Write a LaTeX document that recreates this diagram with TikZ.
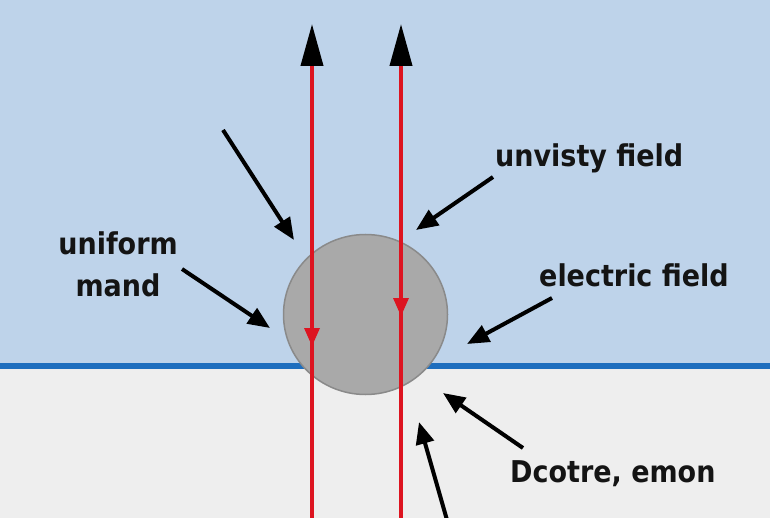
\documentclass[tikz,border=0pt]{standalone}
\usepackage{fontspec}
\setmainfont{DejaVu Sans Condensed}
\usetikzlibrary{arrows.meta}
\definecolor{skyb}{HTML}{BED3EA}
\definecolor{floorg}{HTML}{EEEEEE}
\definecolor{lineb}{HTML}{1E6EBE}
\definecolor{rayred}{HTML}{DD1420}
\definecolor{ballf}{HTML}{A9A9A9}
\definecolor{balld}{HTML}{8A8A8A}
\tikzset{
  lbl/.style={font=\bfseries\fontsize{30}{42}\selectfont, inner sep=0pt, anchor=base west, text=black!92},
  blk/.style={line width=4pt, black, -{Triangle[length=22pt,width=18pt]}},
  ray/.style={line width=4pt, rayred, -{Triangle[length=42pt,width=22pt,color=black]}},
  midtip/.style={fill=rayred}
}
\begin{document}
\begin{tikzpicture}[x=1pt,y=-1pt]
\useasboundingbox (0,0) rectangle (770,518);
% backgrounds
\fill[skyb] (0,0) rectangle (770,366);
\fill[floorg] (0,366) rectangle (770,518);
\draw[lineb, line width=6pt] (0,366) -- (770,366);
% ball
\draw[balld, fill=ballf, line width=1.5pt] (365.5,314.5) ellipse [x radius=82, y radius=80];
% rays
\coordinate (r1b) at (312,520);
\coordinate (r1t) at (312,24);
\coordinate (r2b) at (401,520);
\coordinate (r2t) at (401,24);
\draw[ray] (r1b) -- (r1t);
\draw[ray] (r2b) -- (r2t);
\fill[midtip] (304,328) -- (320,328) -- (312,346) -- cycle;
\fill[midtip] (393,298) -- (409,298) -- (401,316) -- cycle;
% labels
\node[lbl] (unv) at (495,167) {unvisty field};
\node[lbl] (ele) at (539,287) {electric field};
\node[lbl] (dco) at (510,482) {Dcotre, emon};
\node[font=\bfseries\fontsize{30}{42}\selectfont, inner sep=0pt, align=center, text=black!92, anchor=north] (uni) at (118,232) {uniform\\mand};
% arrows
\coordinate (a1s) at (223,130); \coordinate (a1t) at (294,240);
\coordinate (a2s) at (493,177); \coordinate (a2t) at (416,230);
\coordinate (a3s) at (552,298); \coordinate (a3t) at (467,344);
\coordinate (a4s) at (182,269); \coordinate (a4t) at (270,328);
\coordinate (a5s) at (523,448); \coordinate (a5t) at (443,393);
\coordinate (a6s) at (447,520); \coordinate (a6t) at (419,422);
\draw[blk] (a1s) -- (a1t);
\draw[blk] (a2s) -- (a2t);
\draw[blk] (a3s) -- (a3t);
\draw[blk] (a4s) -- (a4t);
\draw[blk] (a5s) -- (a5t);
\draw[blk] (a6s) -- (a6t);
\end{tikzpicture}
\end{document}
